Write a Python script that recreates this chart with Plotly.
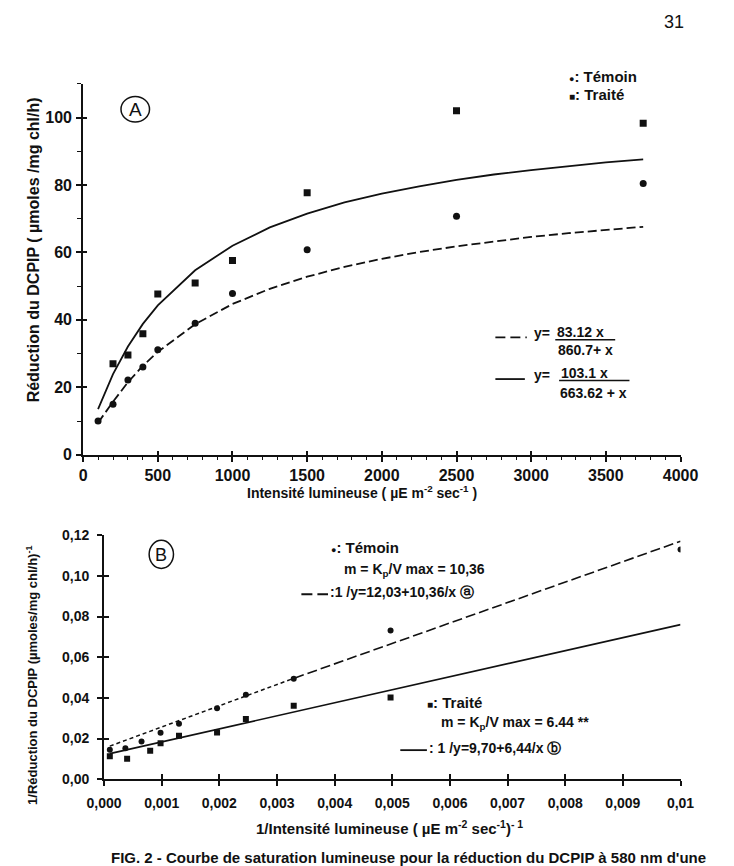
import plotly.graph_objects as go

W, H = 734, 866

# ---------------- data ----------------
# Panel A : light-saturation curve
intensity = [100, 200, 300, 400, 500, 750, 1000, 1500, 2500, 3750]
temoin_A = [10.0, 15.0, 22.2, 26.0, 31.1, 39.0, 47.8, 60.8, 70.7, 80.4]
traite_A = [None, 27.0, 29.6, 35.9, 47.7, 50.9, 57.6, 77.7, 102.0, 98.3]

fit_x_A = [100, 200, 300, 400, 500, 750, 1000, 1250, 1500, 1750, 2000,
           2250, 2500, 2750, 3000, 3250, 3500, 3750]
fit_temoin_A = [9.5, 15.7, 21.5, 26.4, 30.5, 38.7, 44.7, 49.2, 52.8, 55.7,
                58.1, 60.1, 61.8, 63.3, 64.6, 65.7, 66.7, 67.6]
fit_traite_A = [13.5, 23.9, 32.1, 38.8, 44.3, 54.7, 62.0, 67.4, 71.5, 74.8,
                77.4, 79.6, 81.5, 83.1, 84.4, 85.6, 86.7, 87.6]

# Panel B : double-reciprocal plot
inv_temoin_x = [0.0001, 0.00037, 0.00065, 0.00098, 0.0013, 0.00196,
                0.00246, 0.00329, 0.00497, 0.01]
inv_temoin_y = [0.0145, 0.0153, 0.0185, 0.0228, 0.0273, 0.0349,
                0.0415, 0.0494, 0.0731, 0.1130]
inv_traite_x = [0.0001, 0.0004, 0.0008, 0.00098, 0.0013, 0.00196,
                0.00246, 0.00329, 0.00497]
inv_traite_y = [0.0113, 0.0101, 0.0140, 0.0177, 0.0214, 0.0230,
                0.0296, 0.0361, 0.0402]

line_temoin_short_x = [0.0001, 0.0033]
line_temoin_short_y = [0.0163, 0.0497]
line_temoin_long_x = [0.0033, 0.01]
line_temoin_long_y = [0.0497, 0.1170]
line_traite_x = [0.0001, 0.01]
line_traite_y = [0.0126, 0.0760]

xticks_A = [0, 500, 1000, 1500, 2000, 2500, 3000, 3500, 4000]
xticklabels_A = ["0", "500", "1000", "1500", "2000", "2500", "3000", "3500", "4000"]
yticks_A = [0, 20, 40, 60, 80, 100]
yticklabels_A = ["0", "20", "40", "60", "80", "100"]
xticks_B = [0, 0.001, 0.002, 0.003, 0.004, 0.005, 0.006, 0.007, 0.008, 0.009, 0.01]
xticklabels_B = ["0,000", "0,001", "0,002", "0,003", "0,004", "0,005",
                 "0,006", "0,007", "0,008", "0,009", "0,01"]
yticks_B = [0, 0.02, 0.04, 0.06, 0.08, 0.10, 0.12]
yticklabels_B = ["0,00", "0,02", "0,04", "0,06", "0,08", "0,10", "0,12"]

# ---------------- helpers ----------------
def PX(x):
    return x / W


def PY(y):
    return 1 - y / H


SANS = "Liberation Sans, Arial, sans-serif"
BLACK = "#111111"

fig = go.Figure()

# ---- Panel A traces
fig.add_trace(go.Scatter(x=fit_x_A, y=fit_temoin_A, mode="lines",
                         line=dict(color=BLACK, width=1.8, dash="9px,4px"),
                         xaxis="x", yaxis="y", hoverinfo="skip"))
fig.add_trace(go.Scatter(x=fit_x_A, y=fit_traite_A, mode="lines",
                         line=dict(color=BLACK, width=1.8),
                         xaxis="x", yaxis="y", hoverinfo="skip"))
fig.add_trace(go.Scatter(x=intensity, y=temoin_A, mode="markers",
                         marker=dict(symbol="circle", size=7, color=BLACK),
                         xaxis="x", yaxis="y", name="Témoin"))
fig.add_trace(go.Scatter(x=intensity, y=traite_A, mode="markers",
                         marker=dict(symbol="square", size=7, color=BLACK),
                         xaxis="x", yaxis="y", name="Traité"))

# ---- Panel B traces
fig.add_trace(go.Scatter(x=line_temoin_short_x, y=line_temoin_short_y, mode="lines",
                         line=dict(color=BLACK, width=1.5, dash="4px,3px"),
                         xaxis="x2", yaxis="y2", hoverinfo="skip"))
fig.add_trace(go.Scatter(x=line_temoin_long_x, y=line_temoin_long_y, mode="lines",
                         line=dict(color=BLACK, width=1.6, dash="10px,4px"),
                         xaxis="x2", yaxis="y2", hoverinfo="skip"))
fig.add_trace(go.Scatter(x=line_traite_x, y=line_traite_y, mode="lines",
                         line=dict(color=BLACK, width=1.6),
                         xaxis="x2", yaxis="y2", hoverinfo="skip"))
fig.add_trace(go.Scatter(x=inv_temoin_x, y=inv_temoin_y, mode="markers",
                         marker=dict(symbol="circle", size=6, color=BLACK),
                         xaxis="x2", yaxis="y2"))
fig.add_trace(go.Scatter(x=inv_traite_x, y=inv_traite_y, mode="markers",
                         marker=dict(symbol="square", size=6, color=BLACK),
                         xaxis="x2", yaxis="y2"))

# dummy traces carrying the overlay axes (inner half of crossing ticks)
for xa, ya in [("x3", "y"), ("x", "y3"), ("x4", "y2"), ("x2", "y4")]:
    fig.add_trace(go.Scatter(x=[None], y=[None], mode="markers",
                             xaxis=xa, yaxis=ya, hoverinfo="skip"))

tickfont_A = dict(family=SANS, size=16, color=BLACK, weight="bold")
tickfont_B = dict(family=SANS, size=14, color=BLACK, weight="bold")

axis_common = dict(showgrid=False, zeroline=False, showline=True,
                   linecolor=BLACK, linewidth=2, tickcolor=BLACK,
                   tickwidth=1.5, tickmode="array", fixedrange=True)
overlay_common = dict(showgrid=False, zeroline=False, showline=False,
                      tickcolor=BLACK, tickwidth=1.5, tickmode="array",
                      showticklabels=False, ticks="inside", fixedrange=True)

xdomA = [PX(68.5), PX(696.7)]
ydomA = [PY(455.7), PY(77.3)]
xdomB = [PX(90.5), PX(696.7)]
ydomB = [PY(786.7), PY(537.7)]

fig.update_layout(
    width=W, height=H,
    margin=dict(l=0, r=0, t=0, b=0),
    paper_bgcolor="white", plot_bgcolor="rgba(0,0,0,0)",
    showlegend=False,
    xaxis=dict(axis_common, domain=xdomA, range=[0, 4000], anchor="y",
               tickvals=xticks_A, ticktext=xticklabels_A, ticks="outside",
               ticklen=5, tickfont=tickfont_A, ticklabelstandoff=0,
               minor=dict(ticks="outside", ticklen=3, dtick=100, tick0=0,
                          tickcolor=BLACK, tickwidth=1, showgrid=False)),
    yaxis=dict(axis_common, domain=ydomA, range=[0, 110], anchor="x",
               tickvals=yticks_A, ticktext=yticklabels_A, ticks="outside",
               ticklen=5, tickfont=tickfont_A, ticklabelstandoff=1,
               minor=dict(ticks="outside", ticklen=4, dtick=10, tick0=0,
                          tickcolor=BLACK, tickwidth=1, showgrid=False)),
    xaxis3=dict(overlay_common, overlaying="x", anchor="y", range=[0, 4000],
                tickvals=xticks_A, ticklen=4),
    yaxis3=dict(overlay_common, overlaying="y", anchor="x", range=[0, 110],
                tickvals=yticks_A, ticklen=4),
    xaxis2=dict(axis_common, domain=xdomB, range=[0, 0.01], anchor="y2",
                tickvals=xticks_B, ticktext=xticklabels_B, ticks="outside",
                ticklen=5, tickfont=tickfont_B, ticklabelstandoff=5),
    yaxis2=dict(axis_common, domain=ydomB, range=[0, 0.12], anchor="x2",
                tickvals=yticks_B, ticktext=yticklabels_B, ticks="outside",
                ticklen=5, tickfont=tickfont_B, ticklabelstandoff=5),
    xaxis4=dict(overlay_common, overlaying="x2", anchor="y2", range=[0, 0.01],
                tickvals=xticks_B, ticklen=5),
    yaxis4=dict(overlay_common, overlaying="y2", anchor="x2", range=[0, 0.12],
                tickvals=yticks_B, ticklen=5),
)

# ---------------- annotations ----------------
def txt(x, y, text, size=14, family=SANS, xanchor="left", yanchor="middle",
        angle=0, weight="bold"):
    fig.add_annotation(x=PX(x), y=PY(y), xref="paper", yref="paper",
                       text=text, showarrow=False, xanchor=xanchor,
                       yanchor=yanchor, textangle=angle,
                       font=dict(family=family, size=size, color=BLACK,
                                 weight=weight))


def hline(x0, x1, y, dash="solid", width=1.6):
    fig.add_shape(type="line", xref="paper", yref="paper",
                  x0=PX(x0), x1=PX(x1), y0=PY(y), y1=PY(y),
                  line=dict(color=BLACK, width=width, dash=dash))


def ellipse(cx, cy, rx, ry):
    fig.add_shape(type="circle", xref="paper", yref="paper",
                  x0=PX(cx - rx), x1=PX(cx + rx), y0=PY(cy + ry), y1=PY(cy - ry),
                  line=dict(color=BLACK, width=1.5))


# page number
txt(690, 14, "31", size=18, xanchor="center", weight="normal")

# Panel A
ellipse(123.3, 103.3, 15, 13)
txt(123.3, 104, "A", size=19, xanchor="center", weight="normal")
txt(577, 70, "<span style='font-size:9px'>●</span>: Témoin", size=15)
txt(577, 88, "<span style='font-size:10px'>■</span>: Traité", size=15)

hline(502, 535, 336, dash="10px,5px", width=1.8)
txt(541, 332, "y=", size=14)
txt(565, 330, "83.12 x", size=14)
hline(565, 628, 338.5, width=1.5)
txt(566, 349, "860.7+ x", size=14)

hline(502, 533, 378.5, width=1.8)
txt(541, 374, "y=", size=14)
txt(569, 372, "103.1 x", size=14)
hline(569, 643, 380, width=1.5)
txt(568, 393, "663.62 + x", size=14)

txt(16, 247, "Réduction du DCPIP ( µmoles /mg chl/h)", size=16,
    xanchor="center", angle=-90)
txt(362, 494, "Intensité lumineuse ( µE m<sup>-2</sup> sec<sup>-1</sup> )",
    size=14, xanchor="center")

# Panel B
ellipse(150.7, 557.3, 12.8, 14.3)
txt(150.7, 558, "B", size=18, xanchor="center", weight="normal")

txt(327, 550, "<span style='font-size:9px'>●</span>: Témoin", size=15)
txt(341, 573, "m = K<sub>p</sub>/V max = 10,36", size=14)
hline(298, 326, 598, dash="11px,5px", width=1.8)
txt(326, 596, ":1 /y=12,03+10,36/x ⓐ", size=14)

txt(428, 708, "<span style='font-size:10px'>■</span>: Traité", size=15)
txt(443, 729, "m = K<sub>p</sub>/V max = 6.44 **", size=14)
hline(402, 430, 757, width=1.8)
txt(430, 755, ": 1 /y=9,70+6,44/x ⓑ", size=14)

txt(14, 681, "1/Réduction du DCPIP (µmoles/mg chl/h)<sup>-1</sup>", size=13,
    xanchor="center", angle=-90)
txt(391, 836, "1/Intensité lumineuse ( µE m<sup>-2</sup> sec<sup>-1</sup>)<sup>- 1</sup>",
    size=15, xanchor="center")

# cut-off caption at the bottom of the page
txt(96, 856, "FIG. 2 - Courbe de saturation lumineuse pour la réduction du DCPIP à 580 nm d'une",
    size=15, yanchor="top")

fig.write_html("out.html")
